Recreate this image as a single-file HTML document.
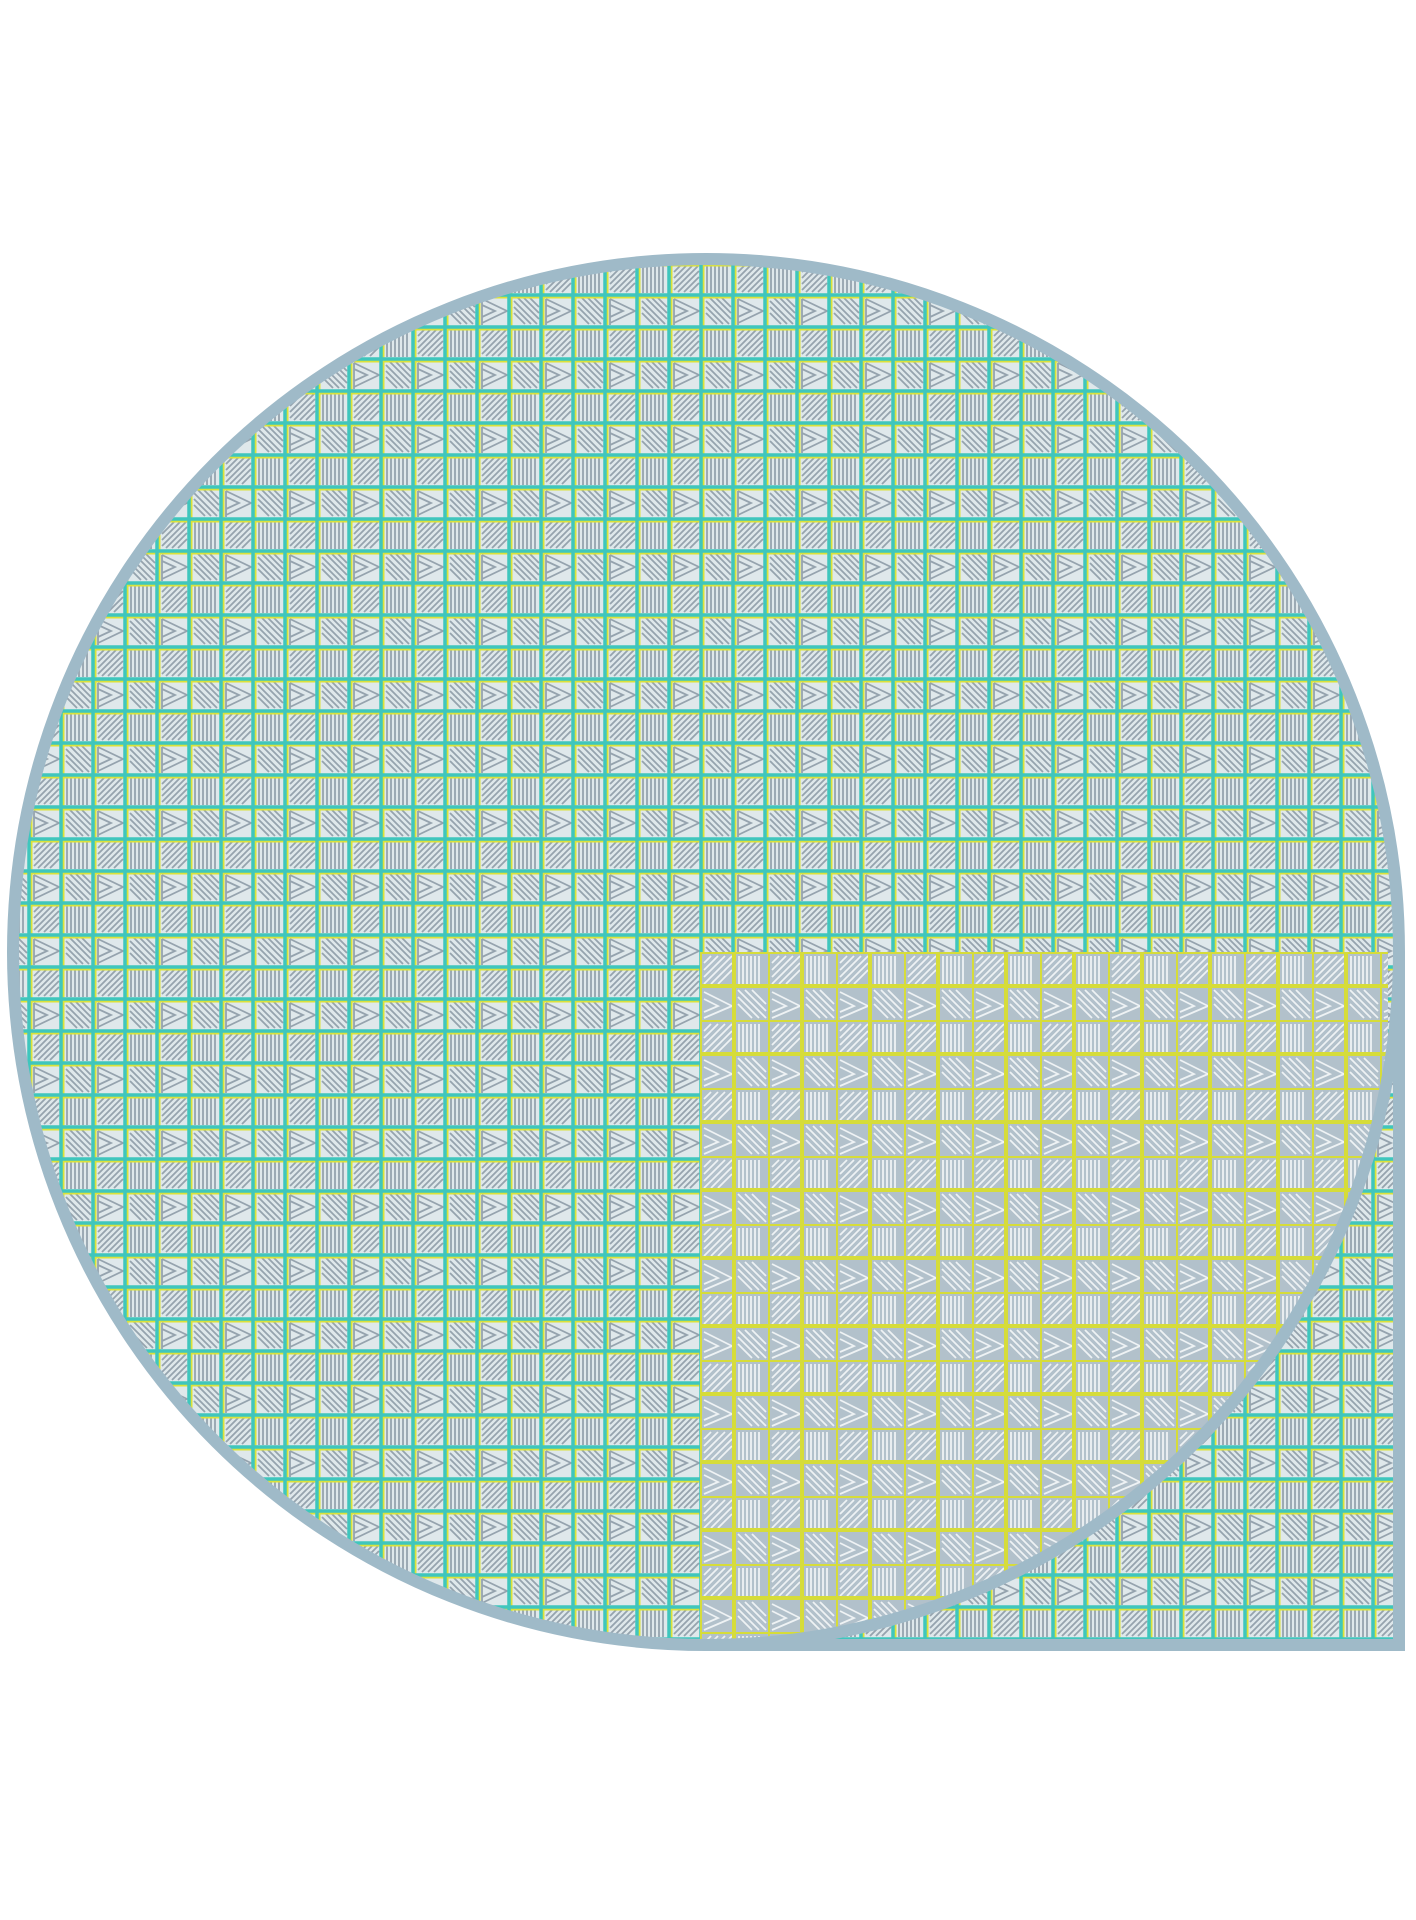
<!DOCTYPE html>
<html><head><meta charset="utf-8"><style>
html,body{margin:0;padding:0;background:#fff;}
svg{display:block;}
</style></head><body>
<svg width="1416" height="1920" viewBox="0 0 1416 1920" xmlns="http://www.w3.org/2000/svg">
<defs>
  <pattern id="tiles" x="29" y="7" width="64" height="64" patternUnits="userSpaceOnUse">
    <rect width="64" height="64" fill="#dfe8eb"/>
    <g stroke="#95a3ae" stroke-width="1.8" fill="none">
      <path d="M5 9 L11 3 M5 15 L17 3 M5 21 L23 3 M5 27 L29 3 M9 29 L30 8 M15 29 L30 14 M21 29 L30 20"/>
      <path d="M38 3 V30 M42 3 V30 M46 3 V30 M50 3 V30 M54 3 V30 M58 3 V30"/>
      <path d="M5 36 L30 48 L5 60 M5 42 L18 48 L5 54 M5 36 V62"/>
      <path d="M37 38 L60 61 M37 44 L54 61 M37 50 L48 61 M41 35 L62 56 M47 35 L62 50 M53 35 L62 44"/>
    </g>
    <g fill="none">
      <path d="M2 32 V2 H32 M34 32 V2 H64 M2 64 V34 H32 M34 64 V34 H64" stroke="#dbe23a" stroke-width="3"/>
      <path d="M0 0 H64 M0 32 H64 M0 64 H64 M0 0 V64 M32 0 V64 M64 0 V64" stroke="#3fc6bd" stroke-width="3.5"/>
    </g>
  </pattern>
  <pattern id="tiles2" x="700" y="952" width="68" height="68" patternUnits="userSpaceOnUse">
    <rect width="68" height="68" fill="#b2c1cb"/>
    <g stroke="#eef2f4" stroke-width="1.8" fill="none">
      <path d="M4 11 L11 4 M4 18 L18 4 M4 25 L25 4 M4 32 L32 4 M11 32 L32 11 M18 32 L32 18"/>
      <path d="M39 4 V32 M43 4 V32 M47 4 V32 M51 4 V32 M55 4 V32 M59 4 V32"/>
      <path d="M4 40 L32 54 L4 66 M4 47 L18 54 L4 60"/>
      <path d="M38 38 L66 66 M38 45 L59 66 M38 52 L52 66 M45 38 L66 59 M52 38 L66 52"/>
    </g>
    <path d="M0 0 H68 M0 34 H68 M0 0 V68 M34 0 V68" stroke="#d6dc3a" stroke-width="4" fill="none"/>
  </pattern>
  <clipPath id="shapeClip">
    <circle cx="706" cy="952" r="693"/>
    <rect x="706" y="952" width="693" height="693"/>
  </clipPath>
  <clipPath id="innerClip">
    <circle cx="706" cy="952" r="690"/>
  </clipPath>
</defs>
<g clip-path="url(#shapeClip)">
  <rect x="0" y="250" width="1416" height="1410" fill="url(#tiles)"/>
  <g clip-path="url(#innerClip)">
    <rect x="700" y="952" width="688" height="700" fill="url(#tiles2)"/>
  </g>
</g>
<g fill="none" stroke="#9fbac8" stroke-width="12">
  <circle cx="706" cy="952" r="693"/>
  <path d="M1399 952 V1645 H706"/>
</g>
</svg>
</body></html>
